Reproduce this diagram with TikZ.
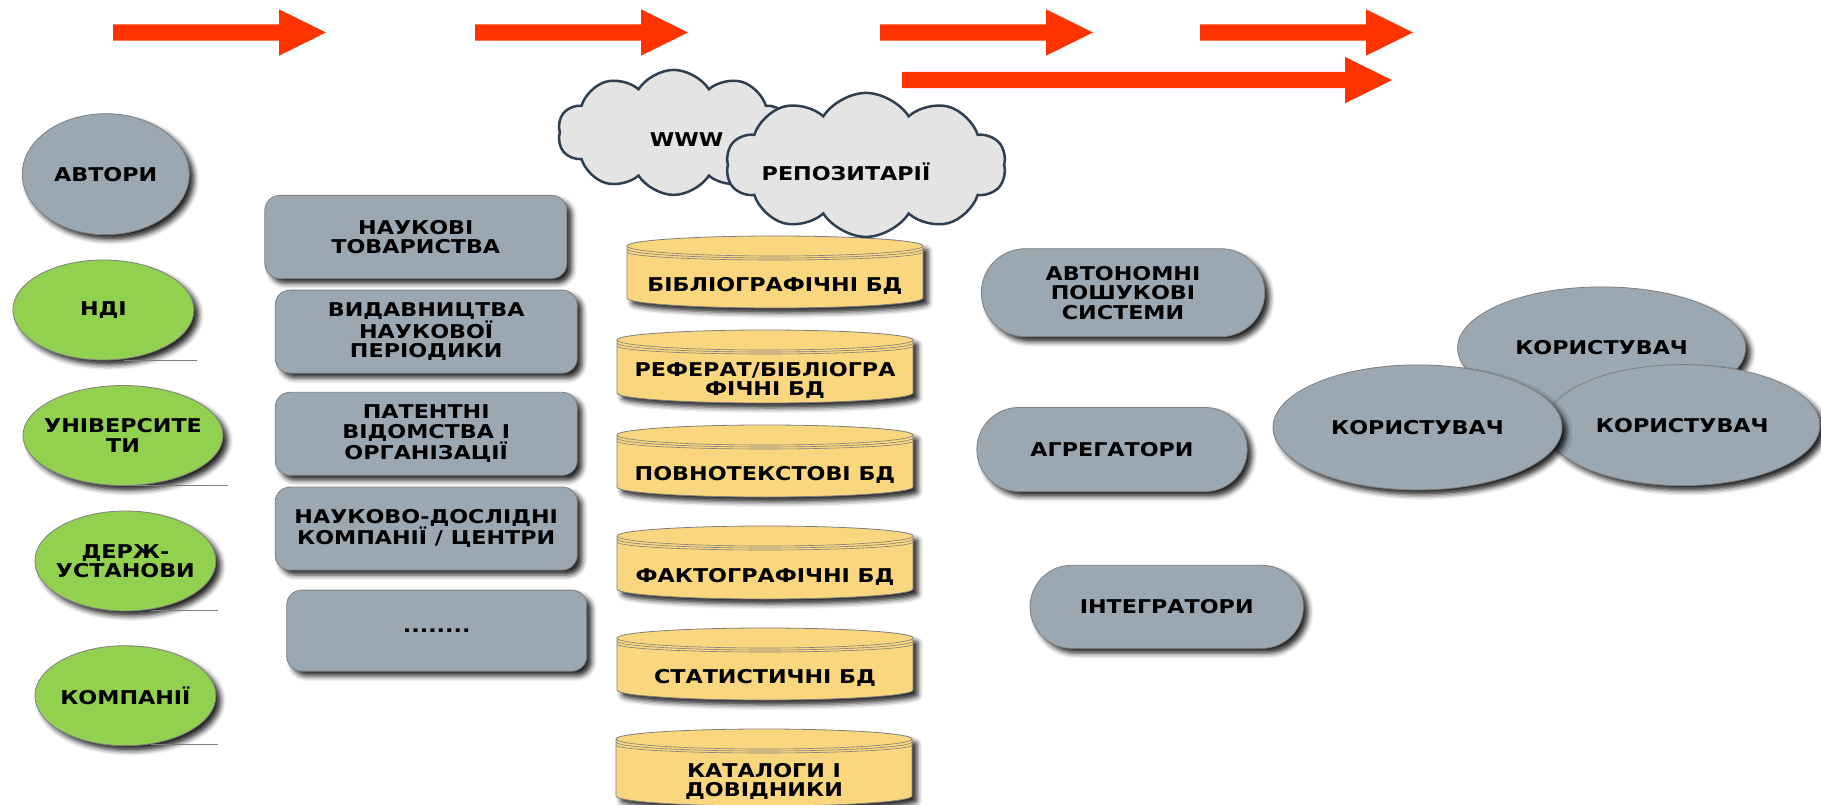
\documentclass[tikz,border=0pt]{standalone}
\usepackage{fontspec}
\newfontfamily\lblfont{DejaVu Sans}[FakeStretch=1.17]
\usepackage{tikz}
\usetikzlibrary{shapes.geometric}
\usetikzlibrary{shapes.misc}
\usetikzlibrary{shapes.symbols}
\usetikzlibrary{shadows.blur}
\definecolor{arrowred}{HTML}{FF3300}
\definecolor{nodegray}{HTML}{9BA8B2}
\definecolor{srcgreen}{HTML}{92D050}
\definecolor{dbyellow}{HTML}{FAD77E}
\definecolor{edgegray}{HTML}{7F7F7F}
\definecolor{cloudfill}{HTML}{E4E4E4}
\definecolor{cloudedge}{HTML}{2F3F50}
\newcommand{\boxfont}{\lblfont\bfseries\fontsize{19}{19.5}\selectfont}
% database cylinder: name, centre x, top y, bottom y, text
\newcommand{\dbcyl}[5]{%
  \path[db body] (#2-148,#3+10) -- (#2-148,#4-10)
     arc[start angle=180,end angle=360,x radius=148pt,y radius=10pt]
     -- (#2+148,#3+10)
     arc[start angle=0,end angle=180,x radius=148pt,y radius=10pt] -- cycle;
  \draw[db rim] (#2-148,#3+10) arc[start angle=180,end angle=360,x radius=148pt,y radius=10pt];
  \draw[db rim] (#2-148,#3+13) arc[start angle=180,end angle=360,x radius=148pt,y radius=9pt];
  \draw[db rim] (#2-148,#3+16) arc[start angle=180,end angle=360,x radius=148pt,y radius=8pt];
  \node[db text] (#1) at (#2,{(#3+28+#4)/2}) {#5};}

\begin{document}
\begin{tikzpicture}[x=1pt,y=-1pt,
    my shadow/.style={blur shadow={shadow xshift=5pt,shadow yshift=-5pt,shadow blur radius=5pt,shadow opacity=85}},
    src node/.style={ellipse,draw=edgegray,line width=0.8pt,inner xsep=-10pt,inner ysep=0pt,align=center,font=\boxfont,my shadow},
    org node/.style={rectangle,rounded corners=15pt,draw=edgegray,line width=0.8pt,fill=nodegray,minimum width=302pt,minimum height=83pt,align=center,font=\boxfont,my shadow},
    tool node/.style={rounded rectangle,draw=edgegray,line width=0.8pt,fill=nodegray,align=center,font=\boxfont,my shadow},
    user node/.style={ellipse,draw=edgegray,line width=0.8pt,fill=nodegray,inner sep=0pt,font=\boxfont,my shadow},
    web node/.style={cloud,cloud puffs=10,cloud puff arc=115,cloud ignores aspect,draw=cloudedge,line width=2.5pt,fill=cloudfill,inner sep=0pt},
    web text/.style={font=\boxfont,inner sep=0pt},
    db body/.style={fill=dbyellow,draw=edgegray,line width=0.8pt,my shadow},
    db rim/.style={draw=edgegray,line width=0.6pt},
    db text/.style={align=center,inner sep=0pt,font=\boxfont},
    big arrow/.style={fill=arrowred},
    under line/.style={draw=edgegray,line width=0.8pt}]
  \useasboundingbox (0,0) rectangle (1821,805);

  % top arrows
  \foreach \ax in {113,475,880,1200}
    \fill[big arrow] (\ax,24.4) -- (\ax+166,24.4) -- (\ax+166,9.3) -- (\ax+213,32.5)
       -- (\ax+166,55.7) -- (\ax+166,40.6) -- (\ax,40.6) -- cycle;
  \fill[big arrow] (902,72) -- (1345,72) -- (1345,56.9) -- (1392,80.1)
       -- (1345,103.3) -- (1345,88.2) -- (902,88.2) -- cycle;

  % sources
  \node[src node,fill=nodegray,minimum width=167pt,minimum height=121pt] (avt) at (105.7,174.2) {АВТОРИ};
  \node[src node,fill=srcgreen,minimum width=181pt,minimum height=100pt] (ndi) at (103.4,310) {НДІ};
  \node[src node,fill=srcgreen,minimum width=200pt,minimum height=100pt] (univ) at (123,435.5) {УНІВЕРСИТЕ\\ТИ};
  \node[src node,fill=srcgreen,minimum width=181pt,minimum height=100pt] (derzh) at (125.4,561) {ДЕРЖ-\\УСТАНОВИ};
  \node[src node,fill=srcgreen,minimum width=181pt,minimum height=100pt] (komp) at (125.4,695.7) {КОМПАНІЇ};
  \draw[under line] (ndi.south) ++(21,0) -- ++(73,0);
  \draw[under line] (univ.south) ++(5,-1) -- ++(100,0);
  \draw[under line] (derzh.south) ++(26,-1) -- ++(67,0);
  \draw[under line] (komp.south) ++(26,-2) -- ++(67,0);

  % organisations
  \node[org node] (tov) at (415.8,236.9) {НАУКОВІ\\ТОВАРИСТВА};
  \node[org node] (vyd) at (426.2,331.6) {ВИДАВНИЦТВА\\НАУКОВОЇ\\ПЕРІОДИКИ};
  \node[org node] (pat) at (426.2,433.8) {ПАТЕНТНІ\\ВІДОМСТВА І\\ОРГАНІЗАЦІЇ};
  \node[org node] (ndc) at (426.2,528.5) {НАУКОВО-ДОСЛІДНІ\\КОМПАНІЇ / ЦЕНТРИ};
  \node[org node,minimum width=300pt,minimum height=81pt] (etc) at (436.7,630.6) {........};

  % databases
  \dbcyl{bib}{775}{236}{308}{БІБЛІОГРАФІЧНІ БД}
  \dbcyl{ref}{765}{330}{403}{РЕФЕРАТ/БІБЛІОГРА\\ФІЧНІ БД}
  \dbcyl{full}{765}{425}{497}{ПОВНОТЕКСТОВІ БД}
  \dbcyl{fact}{765}{526}{599}{ФАКТОГРАФІЧНІ БД}
  \dbcyl{stat}{765}{628}{700}{СТАТИСТИЧНІ БД}
  \dbcyl{cat}{764}{729}{806}{КАТАЛОГИ І\\ДОВІДНИКИ}

  % clouds
  \node[web node,minimum width=232pt,minimum height=125pt,
        label={[web text,name=www text,xshift=13pt,yshift=-7pt]center:WWW}] (www) at (673.7,132.4) {};
  \node[web node,minimum width=280pt,minimum height=144pt,
        label={[web text,name=rep text,xshift=-20pt,yshift=-7pt]center:РЕПОЗИТАРІЇ}] (rep) at (866,164.9) {};

  % search tools
  \node[tool node,minimum width=290pt,minimum height=88pt] (auto) at (1123,292.7) {АВТОНОМНІ\\ПОШУКОВІ\\СИСТЕМИ};
  \node[tool node,minimum width=277pt,minimum height=84pt] (agr) at (1112,449.5) {АГРЕГАТОРИ};
  \node[tool node,minimum width=280pt,minimum height=83pt] (integ) at (1166.7,606.8) {ІНТЕГРАТОРИ};

  % users
  \node[user node,minimum width=288pt,minimum height=122pt] (user a) at (1601.6,347.9) {КОРИСТУВАЧ};
  \node[user node,minimum width=275pt,minimum height=121pt] (user c) at (1682.3,425.1) {КОРИСТУВАЧ};
  \node[user node,minimum width=289pt,minimum height=125pt] (user b) at (1417.5,427.4) {КОРИСТУВАЧ};
\end{tikzpicture}
\end{document}
